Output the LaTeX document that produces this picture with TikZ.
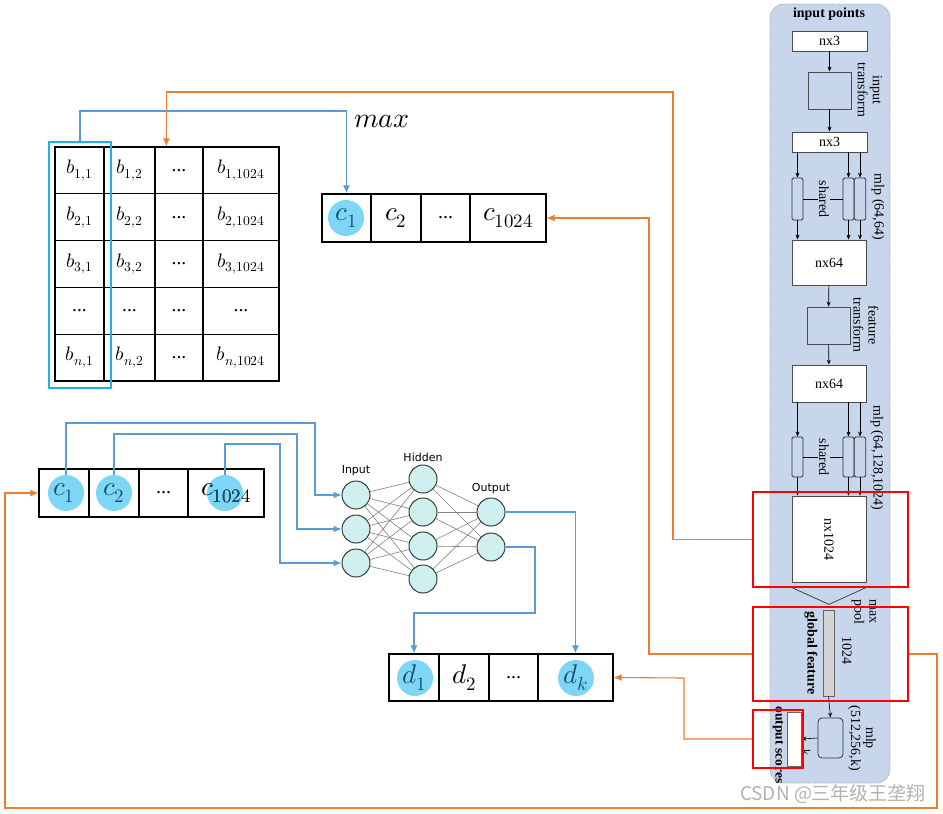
\documentclass[tikz,border=0pt]{standalone}
\usepackage{fontspec}
\usepackage{unicode-math}
\setmainfont{Liberation Serif}
\setmathfont{Latin Modern Math}
\newfontfamily\nnfont{DejaVu Sans}
\newfontfamily\cjkfont{Noto Sans CJK SC}
\usetikzlibrary{arrows.meta,calc}
\definecolor{panelblue}{RGB}{200,214,236}
\definecolor{lineblue}{RGB}{91,155,213}
\definecolor{lineorange}{RGB}{237,125,49}
\definecolor{circblue}{RGB}{125,214,246}
\definecolor{circtext}{RGB}{20,80,110}
\definecolor{hlblue}{RGB}{30,176,232}
\definecolor{neuronfill}{RGB}{208,240,240}
\definecolor{neurondraw}{RGB}{50,62,62}
\definecolor{gfgray}{RGB}{212,212,212}
\tikzset{
  cell/.style={draw=black, line width=1.3pt, inner sep=0pt, minimum height=46.8pt, font=\fontsize{19.5}{22}\selectfont},
  vtext/.style={inner sep=0pt, font=\fontsize{27}{30}\selectfont},
  vcell/.style={vtext, draw=black, line width=1.3pt, minimum height=48pt},
  dotsfont/.style={font=\fontsize{20}{24}\selectfont},
  circ/.style={circle, fill=circblue, minimum size=36pt, inner sep=0pt},
  bl/.style={draw=lineblue, line width=1.1pt, -{Latex[length=8pt,width=7pt]}},
  ol/.style={draw=lineorange, line width=1.1pt, -{Latex[length=8pt,width=7pt]}},
  pbox/.style={draw=black!70, fill=white, line width=0.8pt, inner sep=0pt, font=\fontsize{14}{16}\selectfont},
  ptext/.style={font=\fontsize{14}{15}\selectfont, rotate=-90, align=center, inner sep=1pt},
  parr/.style={-{Stealth[length=5pt,width=4pt]}, line width=0.6pt},
  smallbox/.style={draw=black!80, fill=panelblue, rounded corners=1.5pt, line width=0.8pt, inner sep=0pt},
  redbox/.style={draw=red, line width=1.8pt, inner sep=0pt},
  neuron/.style={circle, draw=neurondraw, fill=neuronfill, line width=1pt, minimum size=28pt, inner sep=0pt},
  nnedge/.style={draw=gray, line width=0.6pt},
  nnlabel/.style={font=\nnfont\fontsize{11}{12}\selectfont, inner sep=1pt}
}
\begin{document}
\begin{tikzpicture}[x=1pt,y=-1pt]
\useasboundingbox (0,0) rectangle (943,814);

% ================= right panel =================
\node[draw=gray!80, densely dotted, line width=0.8pt, fill=panelblue, rounded corners=14pt,
      minimum width=120pt, minimum height=779pt, inner sep=0pt] (panel) at (830,393.5) {};
\node[font=\bfseries\fontsize{14}{16}\selectfont, inner sep=0pt] (ip) at (829,14) {input points};

\node[pbox, minimum width=75pt, minimum height=20pt] (nxa) at (829.5,41) {nx3};
\node[pbox, fill=none, minimum width=43pt, minimum height=37pt] (itf) at (829.5,90.5) {};
\node[pbox, minimum width=75pt, minimum height=20pt] (nxb) at (829.5,142) {nx3};
\node[ptext] (itfl) at (870,90) {input\\transform};

\node[smallbox, minimum width=11pt, minimum height=42pt] (m1a) at (797.5,199) {};
\node[smallbox, minimum width=11pt, minimum height=42pt] (m1b) at (848.5,199) {};
\node[smallbox, minimum width=11.5pt, minimum height=42pt] (m1c) at (860,199) {};
\node[ptext] (sh1) at (824,199) {shared};
\node[ptext] (mlp1l) at (878,207) {mlp (64,64)};

\node[pbox, minimum width=74pt, minimum height=45pt] (nx64a) at (829,262.5) {nx64};
\node[pbox, fill=none, minimum width=43pt, minimum height=37pt] (ftf) at (828.5,325.5) {};
\node[pbox, minimum width=74pt, minimum height=37pt] (nx64b) at (829,383.5) {nx64};
\node[ptext] (ftfl) at (866,325) {feature\\transform};

\node[smallbox, minimum width=11pt, minimum height=40pt] (m2a) at (797.5,457) {};
\node[smallbox, minimum width=11pt, minimum height=40pt] (m2b) at (848.5,457) {};
\node[smallbox, minimum width=11.5pt, minimum height=40pt] (m2c) at (860,457) {};
\node[ptext] (sh2) at (824,457) {shared};
\node[ptext] (mlp2l) at (877,458) {mlp (64,128,1024)};

\node[pbox, minimum width=74pt, minimum height=86pt] (nx1024) at (829,539) {};
\node[ptext] (nx1024l) at (nx1024) {nx1024};

\coordinate (mpl) at ($(nx1024.south west)+(0,5)$);
\coordinate (mpa) at ($(nx1024.south)+(0,22)$);
\coordinate (mpr) at ($(nx1024.south east)+(0,5)$);
\draw[black!80, line width=0.7pt] (mpl) -- (mpa) -- (mpr);
\node[ptext, align=left] (mpool) at (864,612) {max\\pool};

\node[draw=black!60, fill=gfgray, line width=0.8pt, minimum width=11pt, minimum height=86pt, inner sep=0pt] (gf) at (828.5,653) {};
\node[ptext, font=\bfseries\fontsize{14}{15}\selectfont] (gfl) at (811,653) {global feature};
\node[ptext] (gfn) at (847,650) {1024};

\node[smallbox, rounded corners=4pt, minimum width=25pt, minimum height=40pt] (mlp3) at (830.5,738) {};
\node[ptext] (mlp3l) at (862,738) {mlp\\(512,256,k)};
\node[draw=black!60, fill=white, line width=0.8pt, minimum width=14pt, minimum height=54pt, inner sep=0pt] (os) at (794,739) {};
\node[ptext, font=\bfseries\fontsize{13.5}{15}\selectfont] (osl) at (778,745) {output scores};
\node[ptext, font=\fontsize{12}{13}\selectfont] (kl) at (806,752) {k};

% panel arrows
\draw[parr] (nxa) -- (itf);
\draw[parr] (itf) -- (nxb);
\draw[parr] (m1a.north |- nxb.south) -- (m1a.north);
\draw[parr] (m1b.north |- nxb.south) -- (m1b.north);
\draw[parr] (m1c.north |- nxb.south) -- (m1c.north);
\draw[parr] (m1a.south) -- (m1a.south |- nx64a.north);
\draw[parr] (m1b.south) -- (m1b.south |- nx64a.north);
\draw[parr] (m1c.south) -- (m1c.south |- nx64a.north);
\draw[line width=0.8pt] (m1a.east) -- (sh1);
\draw[line width=0.8pt] (sh1) -- (m1b.west);
\draw[parr] (nx64a) -- (ftf);
\draw[parr] (ftf) -- (nx64b);
\draw[parr] (m2a.north |- nx64b.south) -- (m2a.north);
\draw[parr] (m2b.north |- nx64b.south) -- (m2b.north);
\draw[parr] (m2c.north |- nx64b.south) -- (m2c.north);
\draw[parr] (m2a.south) -- (m2a.south |- nx1024.north);
\draw[parr] (m2b.south) -- (m2b.south |- nx1024.north);
\draw[parr] (m2c.south) -- (m2c.south |- nx1024.north);
\draw[line width=0.8pt] (m2a.east) -- (sh2);
\draw[line width=0.8pt] (sh2) -- (m2b.west);
\draw[parr] (gf.south) -- (mlp3.north);
\draw[parr] (mlp3.west) -- (os.east);

% red boxes
\node[redbox, minimum width=155pt, minimum height=95pt] (red1) at (830.5,539.5) {};
\node[redbox, minimum width=155pt, minimum height=94pt] (red2) at (830.5,654) {};
\node[redbox, minimum width=50pt, minimum height=58pt] (red3) at (778,739) {};

\node[font=\cjkfont\fontsize{19}{21}\selectfont, text=gray!60, inner sep=0pt] (wm) at (833,794) {CSDN @三年级王垄翔};

% ================= matrix =================
\node[cell, minimum width=49pt] (b11) at (79.5,170.4) {$b_{1,1}$};
\node[cell, minimum width=51pt] (b12) at (129.5,170.4) {$b_{1,2}$};
\node[cell, minimum width=48pt] (b13) at (179,170.4) {...};
\node[cell, minimum width=76pt] (b14) at (241,170.4) {$b_{1,1024}$};
\node[cell, minimum width=49pt] (b21) at (79.5,217.2) {$b_{2,1}$};
\node[cell, minimum width=51pt] (b22) at (129.5,217.2) {$b_{2,2}$};
\node[cell, minimum width=48pt] (b23) at (179,217.2) {...};
\node[cell, minimum width=76pt] (b24) at (241,217.2) {$b_{2,1024}$};
\node[cell, minimum width=49pt] (b31) at (79.5,264) {$b_{3,1}$};
\node[cell, minimum width=51pt] (b32) at (129.5,264) {$b_{3,2}$};
\node[cell, minimum width=48pt] (b33) at (179,264) {...};
\node[cell, minimum width=76pt] (b34) at (241,264) {$b_{3,1024}$};
\node[cell, minimum width=49pt] (b41) at (79.5,310.8) {...};
\node[cell, minimum width=51pt] (b42) at (129.5,310.8) {...};
\node[cell, minimum width=48pt] (b43) at (179,310.8) {...};
\node[cell, minimum width=76pt] (b44) at (241,310.8) {...};
\node[cell, minimum width=49pt] (b51) at (79.5,357.6) {$b_{n,1}$};
\node[cell, minimum width=51pt] (b52) at (129.5,357.6) {$b_{n,2}$};
\node[cell, minimum width=48pt] (b53) at (179,357.6) {...};
\node[cell, minimum width=76pt] (b54) at (241,357.6) {$b_{n,1024}$};
\node[draw=hlblue, line width=2pt, minimum width=62pt, minimum height=246pt, inner sep=0pt] (hl) at (80,265) {};

% ================= top c vector =================
\node[circ] (tcc1) at (346,218) {};
\node[vcell, minimum width=49pt, text=circtext] (tc1) at (346.5,218) {$c_1$};
\node[vcell, minimum width=50pt] (tc2) at (396,218) {$c_2$};
\node[vcell, minimum width=49pt, dotsfont] (tc3) at (445.5,218) {...};
\node[vcell, minimum width=76pt] (tc4) at (508,218) {$c_{1024}$};
\node[font=\fontsize{28}{32}\selectfont, inner sep=0pt] (maxl) at (382,121) {$max$};

% ================= bottom c vector =================
\node[circ] (bcc1) at (66,493) {};
\node[circ] (bcc2) at (114,493) {};
\node[circ] (bcc3) at (225,493) {};
\node[vcell, minimum width=50pt, text=circtext] (bc1) at (64,493) {$c_1$};
\node[vcell, minimum width=50pt, text=circtext] (bc2) at (114,493) {$c_2$};
\node[vcell, minimum width=49pt, dotsfont] (bc3) at (163.5,493) {...};
\node[vcell, minimum width=76pt] (bc4) at (226,493) {$c_{1024}$};
\begin{scope}
  \clip (bcc3.center) circle (18pt);
  \node[vtext, text=circtext] (bc4t) at (bc4.center) {$c_{1024}$};
\end{scope}

% ================= d vector =================
\node[circ] (dc1) at (415,678) {};
\node[circ] (dc4) at (576,678) {};
\node[vcell, minimum width=50pt, minimum height=47pt, text=circtext] (d1) at (414,677.5) {$d_1$};
\node[vcell, minimum width=50pt, minimum height=47pt] (d2) at (464,677.5) {$d_2$};
\node[vcell, minimum width=49pt, minimum height=47pt, dotsfont] (d3) at (513.5,677.5) {...};
\node[vcell, minimum width=75pt, minimum height=47pt, text=circtext] (d4) at (575.5,677.5) {$d_k$};

% ================= neural net =================
\node[neuron] (in1) at (356,495) {};
\node[neuron] (in2) at (356,529) {};
\node[neuron] (in3) at (356,563) {};
\node[neuron] (h1) at (423,479) {};
\node[neuron] (h2) at (423,512) {};
\node[neuron] (h3) at (423,546) {};
\node[neuron] (h4) at (423,579) {};
\node[neuron] (o1) at (491,512) {};
\node[neuron] (o2) at (491,547) {};
\foreach \i in {in1,in2,in3} \foreach \j in {h1,h2,h3,h4} \draw[nnedge] (\i) -- (\j);
\foreach \i in {h1,h2,h3,h4} \foreach \j in {o1,o2} \draw[nnedge] (\i) -- (\j);
\node[nnlabel] (inl) at (356,471) {Input};
\node[nnlabel] (hil) at (423,457) {Hidden};
\node[nnlabel] (oul) at (491,489) {Output};

% ================= blue connectors =================
\draw[bl] (hl.north) -- ++(0,-30) -| (tc1.north);
\coordinate (oG) at (315,423);
\coordinate (oH) at (297,434);
\coordinate (oI) at (280,444);
\draw[bl] (bcc1.north) |- (oG) |- (in1.west);
\draw[bl] (bcc2.north) |- (oH) |- (in2.west);
\draw[bl] (bcc3.north) |- (oI) |- (in3.west);
\draw[bl] (o1.east) -| (d4.north);
\coordinate (oJ) at (535,613);
\draw[bl] (o2.east) -| (oJ) -| (d1.north);

% ================= orange connectors =================
\coordinate (oA) at (673,92);
\coordinate (mtop) at ($(b13.north west)+(12,0)$);
\draw[ol] (red1.west) -| (oA) -| (mtop);
\coordinate (oB) at (649,218);
\draw[ol] (red2.west) -| (oB) -- (tc4.east);
\coordinate (oC) at (937,808);
\coordinate (oD) at (5,493);
\draw[ol] (red2.east) -| (oC) -| (oD) -- (bc1.west);
\coordinate (oE) at (684,678);
\draw[ol] (red3.west) -| (oE) -- (d4.east);
\end{tikzpicture}
\end{document}
